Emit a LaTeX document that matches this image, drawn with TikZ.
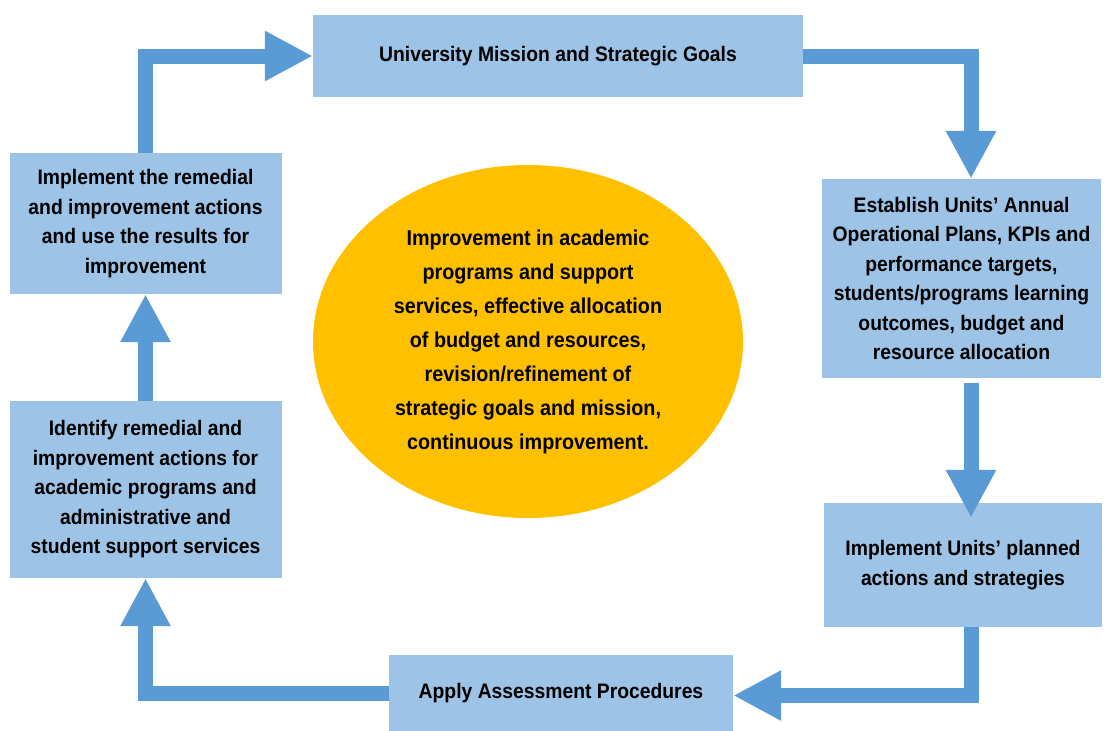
\documentclass[tikz,border=0pt]{standalone}
\usepackage{fontspec}
\setmainfont[FakeStretch=0.92]{Liberation Sans}
\usepackage{xcolor}
\usetikzlibrary{arrows.meta,shapes.geometric}
\definecolor{BoxBlue}{HTML}{9DC3E6}
\definecolor{ArrowBlue}{HTML}{5B9BD5}
\definecolor{Gold}{HTML}{FFC000}

\begin{document}
\begin{tikzpicture}[x=1pt, y=-1pt,
	box/.style={fill=BoxBlue, inner sep=0pt, align=center, font=\bfseries\fontsize{21}{29.5}\selectfont},
	flow/.style={draw=ArrowBlue, line width=15pt, -{Triangle[length=48pt, width=47pt]}}]
					\useasboundingbox (0, 0) rectangle (1109, 731);
					
					\node[box, minimum width=490pt, minimum height=82pt] (Mission) at (558, 56) {University Mission and Strategic Goals};
					\node[box, minimum width=279pt, minimum height=199pt] (Plans) at (961.5, 278.5) {Establish Units’ Annual\\Operational Plans, KPIs and\\performance targets,\\students/programs learning\\outcomes, budget and\\resource allocation};
					\node[box, minimum width=278pt, minimum height=124pt] (Actions) at (963, 565) {Implement Units’ planned\\actions and strategies};
					\node[box, minimum width=344pt, minimum height=76pt] (Assessment) at (561, 693) {Apply Assessment Procedures};
					\node[box, minimum width=272pt, minimum height=177pt] (Identify) at (145.5, 489.5) {Identify remedial and\\improvement actions for\\academic programs and\\administrative and\\student support services};
					\node[box, minimum width=272pt, minimum height=141pt] (Remedial) at (145.5, 223.5) {Implement the remedial\\and improvement actions\\and use the results for\\improvement};
					
					\node[ellipse, fill=Gold, inner sep=0pt, minimum width=430pt, minimum height=353pt, align=center, font=\bfseries\fontsize{21.5}{34}\selectfont] (Outcome) at (528, 341.5) {Improvement in academic\\programs and support\\services, effective allocation\\of budget and resources,\\revision/refinement of\\strategic goals and mission,\\continuous improvement.};
					
					\draw[flow] (Remedial.north) |- (Mission.west);
					\draw[flow] (Mission.east) -| ([xshift=9.5pt]Plans.north);
					\draw[flow] ([xshift=9.5pt, yshift=-5pt]Plans.south) -- ([xshift=8pt, yshift=-15pt]Actions.north);
					\draw[flow] ([xshift=8pt]Actions.south) |- ([yshift=-2.5pt]Assessment.east);
					\draw[flow] (Assessment.west) -| (Identify.south);
					\draw[flow] (Identify.north) -- (Remedial.south);
\end{tikzpicture}
\end{document}
